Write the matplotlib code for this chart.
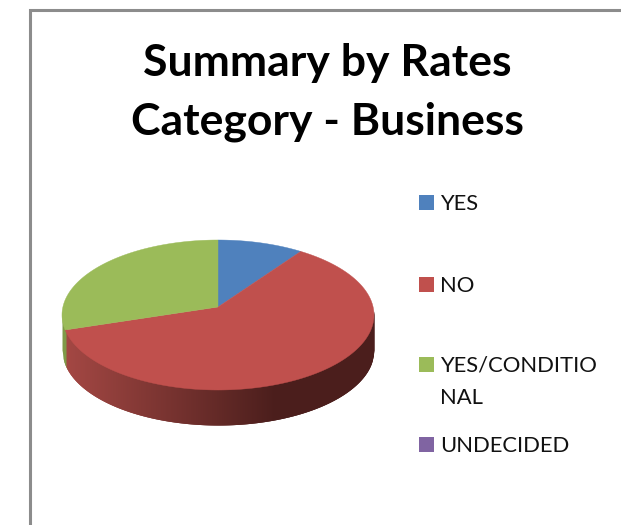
import numpy as np
import matplotlib
matplotlib.use("Agg")
import matplotlib.pyplot as plt
from matplotlib.patches import Rectangle

title_lines = ["Summary by Rates", "Category - Business"]
labels = ["YES", "NO", "YES/CONDITIO\nNAL", "UNDECIDED"]
values = [8.9, 62.9, 28.2, 0.0]
colors = ["#4f81bd", "#c0504d", "#9bbb59", "#8064a2"]
legend_y = [202, 284, 364, 444]
title_y = [76, 135]

# pie geometry in pixels
cx, cy = 218, 315
rx, ry = 156, 75
apex_y = 307
depth = 35

plt.rcParams["font.family"] = ["Lato", "DejaVu Sans"]
fig = plt.figure(figsize=(6.21, 5.25), dpi=100)
ax = fig.add_axes([0, 0, 1, 1])
ax.set_xlim(0, 621)
ax.set_ylim(525, 0)
ax.axis("off")

# chart frame
ax.plot([30, 30, 621], [525, 9.5, 9.5], color="#8c8c8c", lw=2.2, solid_joinstyle="miter")


def edge(t):
    return cx + rx * np.sin(t), cy - ry * np.cos(t)


bounds = np.cumsum([0] + values) / sum(values) * 2 * np.pi

# side of the pie, only the front half shows
t_split = bounds[2]
for x0 in np.arange(cx - rx, cx + rx, 1.0):
    xs = np.array([x0, min(x0 + 2.5, cx + rx)])
    u = (x0 - (cx - rx)) / (2 * rx)
    top = cy + ry * np.sqrt(np.clip(1 - ((xs - cx) / rx) ** 2, 0, 1))
    if x0 < cx + rx * np.sin(t_split):
        col = "#7f9a48"
    else:
        f = min(u / 0.68, 1)
        c0 = np.array([165, 72, 68])
        c1 = np.array([75, 30, 28])
        col = (c0 + (c1 - c0) * f) / 255
    ax.fill_between(xs, top - 4, top + depth, color=col, lw=0, antialiased=False)

# top face
for i in range(len(values)):
    if values[i] == 0:
        continue
    t = np.linspace(bounds[i], bounds[i + 1], 200)
    ex, ey = edge(t)
    ax.fill(np.r_[cx, ex], np.r_[apex_y, ey], color=colors[i], lw=0.3)

for line, y in zip(title_lines, title_y):
    ax.text(327, y, line, ha="center", va="baseline", fontsize=32, fontweight="bold",
            color="black")

# legend
for i in range(len(labels)):
    ax.add_patch(Rectangle((419, legend_y[i] - 7.5), 15, 15, color=colors[i], lw=0))
    ax.text(440, legend_y[i] - 8.5, labels[i], ha="left", va="top", fontsize=15.8,
            color="#111111", linespacing=1.75)

fig.savefig("out.png", dpi=100)
